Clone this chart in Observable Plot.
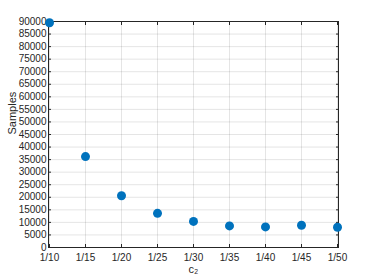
<!DOCTYPE html>
<html>
<head>
<meta charset="utf-8">
<script src="https://cdn.jsdelivr.net/npm/d3@7"></script>
<script src="https://cdn.jsdelivr.net/npm/@observablehq/plot@0.6"></script>
<style>
  html, body { margin: 0; padding: 0; background: white; }
</style>
</head>
<body>
<div id="chart"></div>
<script>
const categories = ["1/10", "1/15", "1/20", "1/25", "1/30", "1/35", "1/40", "1/45", "1/50"];
const samples = [89500, 36200, 20600, 13600, 10400, 8600, 8200, 8850, 8050];
const yTicks = [0, 5000, 10000, 15000, 20000, 25000, 30000, 35000, 40000, 45000,
                50000, 55000, 60000, 65000, 70000, 75000, 80000, 85000, 90000];
const xLabel = "c₂";
const yLabel = "Samples";

const data = categories.map((c, i) => ({c, v: samples[i]}));
const axisColor = "#262626";

const chart = Plot.plot({
  width: 374,
  height: 280,
  marginLeft: 48,
  marginRight: 36,
  marginTop: 21,
  marginBottom: 33,
  style: {fontFamily: "'Liberation Sans', Arial, Helvetica, sans-serif", fontSize: "10px", color: axisColor, background: "white", overflow: "visible"},
  x: {type: "point", domain: categories, padding: 0, label: null},
  y: {domain: [0, 90000], label: null},
  marks: [
    Plot.gridX(categories, {stroke: axisColor, strokeOpacity: 0.12}),
    Plot.gridY(yTicks, {stroke: axisColor, strokeOpacity: 0.12}),
    Plot.axisX(categories, {anchor: "bottom", tickSize: -3, tickPadding: 9, label: null, stroke: axisColor, fill: axisColor}),
    Plot.axisX(categories, {anchor: "top", tickSize: -3, tickFormat: () => "", label: null, stroke: axisColor}),
    Plot.axisY(yTicks, {anchor: "left", tickSize: -3, tickPadding: 5, tickFormat: d => String(d), label: null, stroke: axisColor, fill: axisColor}),
    Plot.axisY(yTicks, {anchor: "right", tickSize: -3, tickFormat: () => "", label: null, stroke: axisColor}),
    Plot.frame({stroke: axisColor, strokeWidth: 1}),
    Plot.dot(data, {x: "c", y: "v", r: 4.5, fill: "#0072BD", stroke: "none"}),
    Plot.text([yLabel], {frameAnchor: "left", dx: -36, rotate: -90, fontSize: 11, fill: axisColor}),
    Plot.text([xLabel], {frameAnchor: "bottom", dy: 25, fontSize: 11, fill: axisColor})
  ]
});
document.getElementById("chart").appendChild(chart);
</script>
</body>
</html>
